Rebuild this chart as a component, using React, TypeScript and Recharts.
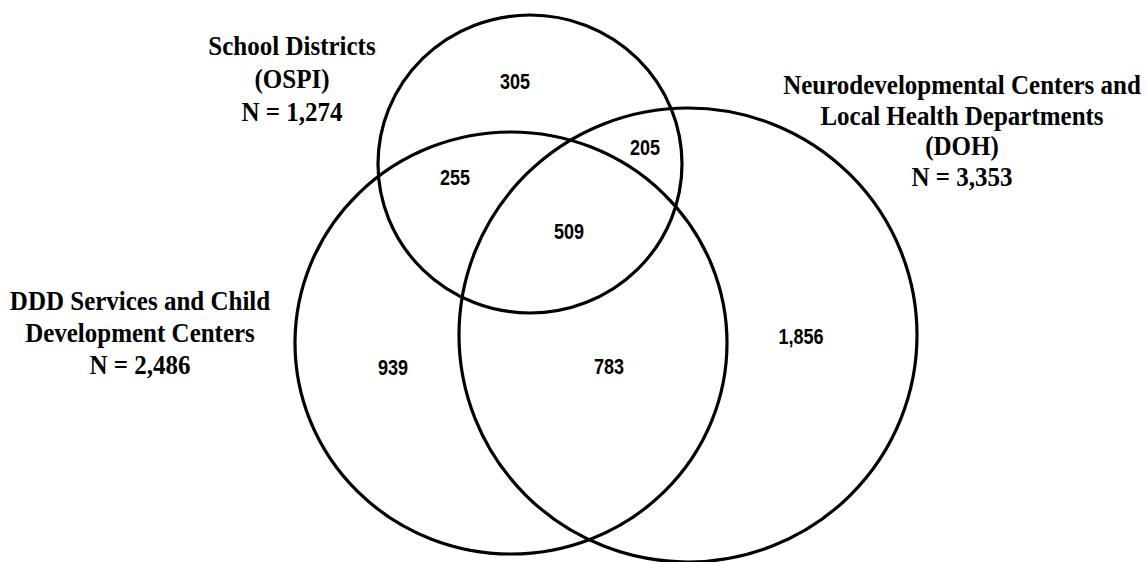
import { Scatter, ScatterChart, XAxis, YAxis } from 'recharts'

// the three sets and their sizes
const setTitles = [
  ['School Districts', '(OSPI)'],
  ['DDD Services and Child', 'Development Centers'],
  ['Neurodevelopmental Centers and', 'Local Health Departments', '(DOH)'],
]
const setTotals = [1274, 2486, 3353]

// counts inside each region of the diagram
const regionNames = ['OSPI only', 'OSPI + DDD', 'OSPI + DOH', 'All three', 'DDD only', 'DDD + DOH', 'DOH only']
const regionCounts = [305, 255, 205, 509, 939, 783, 1856]

// layout, in the chart's own units (domain is the picture size)
const W = 1147
const H = 562
const circleLayout = [
  { x: 530, y: 164, rx: 152, ry: 149 },
  { x: 511, y: 343, rx: 216, ry: 211 },
  { x: 688, y: 335, rx: 229, ry: 227 },
]
const titleLayout = [
  { x: 292, y: 55, gap: 33 },
  { x: 140, y: 310, gap: 32 },
  { x: 962, y: 94, gap: 30.5 },
]
const regionLayout = [
  { x: 515, y: 81 },
  { x: 455, y: 177 },
  { x: 645, y: 147 },
  { x: 569, y: 231 },
  { x: 393, y: 367 },
  { x: 609, y: 366 },
  { x: 801, y: 336 },
]

const circles = circleLayout.map((c, i) => ({ ...c, name: setTitles[i].join(' ') }))
const titles = titleLayout.map((t, i) => ({
  ...t,
  lines: [...setTitles[i], `N = ${setTotals[i].toLocaleString('en-US')}`],
}))
const regions = regionLayout.map((r, i) => ({
  ...r,
  name: regionNames[i],
  label: regionCounts[i].toLocaleString('en-US'),
}))

const CircleShape = (props: any) => {
  const { cx, cy, payload } = props
  return <ellipse cx={cx} cy={cy} rx={payload.rx} ry={payload.ry} fill="none" stroke="#000" strokeWidth={3.2} />
}

// the scan's lettering is taller than normal, hence the vertical stretch
const RegionLabel = (props: any) => {
  const { cx, cy, payload } = props
  return (
    <text
      transform={`translate(${cx} ${cy + 8}) scale(1 1.25)`}
      textAnchor="middle"
      fontFamily="Arial, 'Liberation Sans', sans-serif"
      fontWeight="bold"
      fontSize={18}
      fill="#000"
    >
      {payload.label}
    </text>
  )
}

const TitleLabel = (props: any) => {
  const { cx, cy, payload } = props
  return (
    <g>
      {payload.lines.map((line: string, i: number) => (
        <text
          key={i}
          transform={`translate(${cx} ${cy + i * payload.gap}) scale(1 1.12)`}
          textAnchor="middle"
          fontFamily="'Times New Roman', 'Liberation Serif', serif"
          fontWeight="bold"
          fontSize={25}
          fill="#000"
        >
          {line}
        </text>
      ))}
    </g>
  )
}

export default function App() {
  return (
    <div style={{ position: 'absolute', left: 0, top: 0, background: '#fff' }}>
      <ScatterChart width={W} height={H} margin={{ top: 0, right: 0, bottom: 0, left: 0 }}>
        <XAxis type="number" dataKey="x" domain={[0, W]} hide />
        <YAxis type="number" dataKey="y" domain={[0, H]} reversed hide />
        <Scatter data={circles} shape={CircleShape} isAnimationActive={false} />
        <Scatter data={regions} shape={RegionLabel} isAnimationActive={false} />
        <Scatter data={titles} shape={TitleLabel} isAnimationActive={false} />
      </ScatterChart>
    </div>
  )
}
